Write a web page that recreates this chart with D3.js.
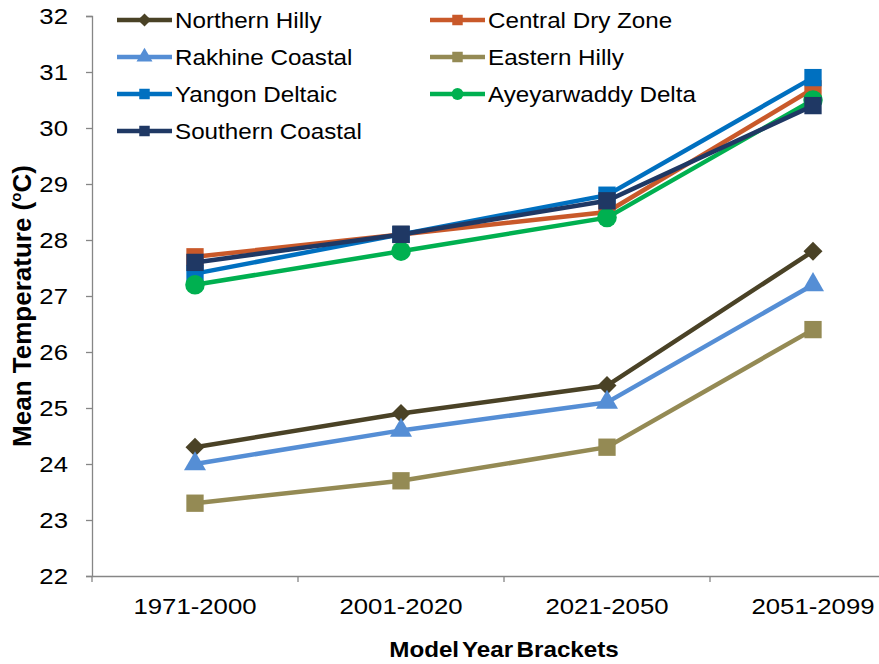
<!DOCTYPE html>
<html>
<head>
<meta charset="utf-8">
<script src="https://cdn.jsdelivr.net/npm/d3@7"></script>
<style>
  body { margin: 0; background: #fff; }
  text { font-family: "Liberation Sans", Arial, sans-serif; fill: #000; }
</style>
</head>
<body>
<script>
// Chart data
const brackets = ["1971-2000", "2001-2020", "2021-2050", "2051-2099"];
const yTicks = [22, 23, 24, 25, 26, 27, 28, 29, 30, 31, 32];

const northernHilly = [24.3, 24.9, 25.4, 27.8];
const centralDryZone = [27.7, 28.1, 28.5, 30.7];
const rakhineCoastal = [24.0, 24.6, 25.1, 27.2];
const easternHilly = [23.3, 23.7, 24.3, 26.4];
const yangonDeltaic = [27.4, 28.1, 28.8, 30.9];
const ayeyarwaddyDelta = [27.2, 27.8, 28.4, 30.5];
const southernCoastal = [27.6, 28.1, 28.7, 30.4];

const series = [
    { name: "Northern Hilly", values: northernHilly, color: "#4a4226", marker: "diamond" },
    { name: "Central Dry Zone", values: centralDryZone, color: "#c9592a", marker: "square" },
    { name: "Rakhine Coastal", values: rakhineCoastal, color: "#558ed5", marker: "triangle" },
    { name: "Eastern Hilly", values: easternHilly, color: "#948a54", marker: "square" },
    { name: "Yangon Deltaic", values: yangonDeltaic, color: "#0070c0", marker: "square" },
    { name: "Ayeyarwaddy Delta", values: ayeyarwaddyDelta, color: "#00b050", marker: "circle" },
    { name: "Southern Coastal", values: southernCoastal, color: "#1f3864", marker: "square" }
];

// Dimensions (plot runs past the right edge, as in the original)
const W = 879, H = 664;
const margin = { top: 16, left: 92, bottom: 88 };
const plotW = 824;
const plotH = H - margin.top - margin.bottom;
const stretch = 1.12; // original text is a bit wide

const svg = d3.select("body")
    .append("svg")
    .attr("width", W)
    .attr("height", H);

const g = svg.append("g")
    .attr("transform", `translate(${margin.left},${margin.top})`);

const x = d3.scaleBand()
    .domain(brackets)
    .range([0, plotW]);

const y = d3.scaleLinear()
    .domain([22, 32])
    .range([plotH, 0]);

// Y axis
const yAxis = g.append("g")
    .call(d3.axisLeft(y).tickValues(yTicks).tickSize(6).tickFormat(d3.format("d")));
yAxis.select(".domain").attr("stroke", "#868686").attr("stroke-width", 1.3);
yAxis.selectAll(".tick line").attr("stroke", "#868686").attr("stroke-width", 1.3);
yAxis.selectAll(".tick text")
    .attr("x", 0)
    .attr("transform", `translate(-24,0) scale(${stretch},1)`)
    .style("font-size", "23px");

// X axis
const xAxis = g.append("g")
    .attr("transform", `translate(0,${plotH})`)
    .call(d3.axisBottom(x).tickSize(0).tickPadding(22));
xAxis.select(".domain").attr("stroke", "#868686").attr("stroke-width", 1.3);
xAxis.selectAll(".tick text")
    .attr("transform", `scale(${stretch},1)`)
    .style("font-size", "23px");
// tick marks at category boundaries
xAxis.selectAll(".bound")
    .data(brackets)
    .enter()
    .append("line")
    .attr("x1", d => x(d))
    .attr("x2", d => x(d))
    .attr("y1", 0)
    .attr("y2", 6)
    .attr("stroke", "#868686")
    .attr("stroke-width", 1.3);

// Axis titles
svg.append("text")
    .attr("transform", `translate(31,${margin.top + plotH / 2 + 10}) rotate(-90)`)
    .attr("text-anchor", "middle")
    .style("font-size", "26px")
    .style("font-weight", "bold")
    .html('Mean Temperature (<tspan font-size="15px" dy="-10">o</tspan><tspan dy="10">C)</tspan>');

svg.append("text")
    .attr("transform", `translate(${margin.left + plotW / 2},657) scale(1.1,1)`)
    .attr("text-anchor", "middle")
    .style("font-size", "22px")
    .style("font-weight", "bold")
    .style("word-spacing", "-3px")
    .text("Model Year Brackets");

// Marker drawing
const symbolType = {
    diamond: d3.symbolDiamond2,
    square: d3.symbolSquare,
    triangle: d3.symbolTriangle,
    circle: d3.symbolCircle
};
const symbolSize = { diamond: 230, square: 300, triangle: 210, circle: 300 };

const line = d3.line()
    .x((d, i) => x(brackets[i]) + x.bandwidth() / 2)
    .y(d => y(d));

series.forEach(s => {
    const sg = g.append("g");
    sg.append("path")
        .datum(s.values)
        .attr("fill", "none")
        .attr("stroke", s.color)
        .attr("stroke-width", 4.5)
        .attr("d", line);
    sg.selectAll(".pt")
        .data(s.values)
        .enter()
        .append("path")
        .attr("transform", (d, i) => `translate(${x(brackets[i]) + x.bandwidth() / 2},${y(d)})`)
        .attr("d", d3.symbol().type(symbolType[s.marker]).size(symbolSize[s.marker])())
        .attr("fill", s.color);
});

// Legend
const legend = svg.append("g");
const legendCols = [117, 430];
const legendRowH = 37;
series.forEach((s, i) => {
    const col = i % 2, row = Math.floor(i / 2);
    const lx = legendCols[col], ly = 20 + row * legendRowH;
    const item = legend.append("g").attr("transform", `translate(${lx},${ly})`);
    item.append("line")
        .attr("x1", 0).attr("x2", 55)
        .attr("stroke", s.color)
        .attr("stroke-width", 4.5);
    item.append("path")
        .attr("transform", "translate(27.5,0)")
        .attr("d", d3.symbol().type(symbolType[s.marker]).size(110)())
        .attr("fill", s.color);
    item.append("text")
        .attr("transform", `translate(58,0) scale(1.1,1)`)
        .attr("dy", "0.35em")
        .style("font-size", "22px")
        .text(s.name);
});
</script>
</body>
</html>
